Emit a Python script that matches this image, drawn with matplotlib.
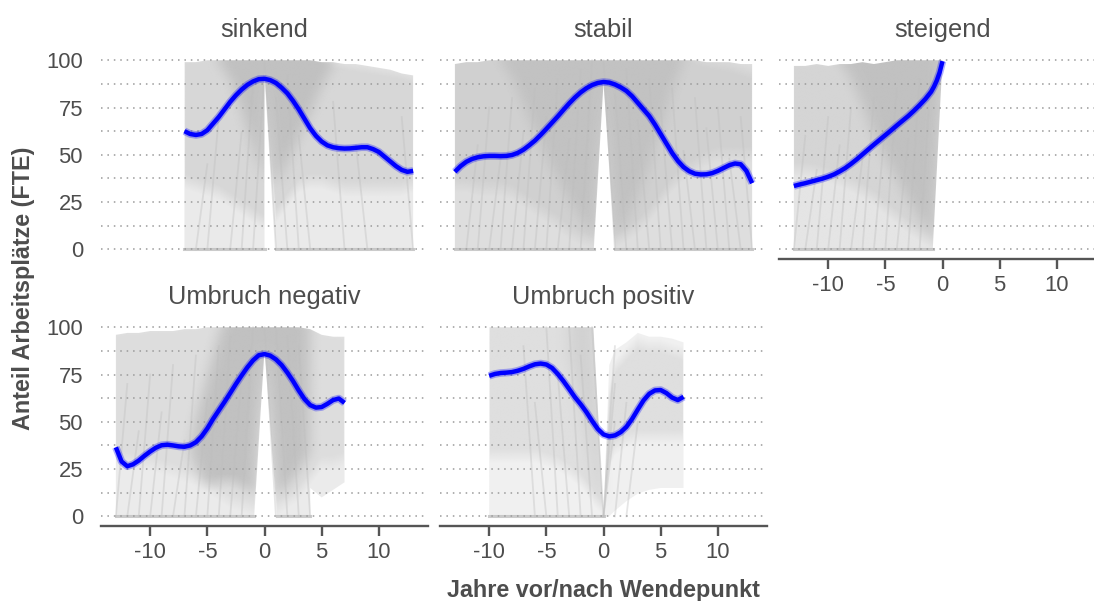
import matplotlib
matplotlib.use("Agg")
import matplotlib.pyplot as plt
import numpy as np
from matplotlib.path import Path
from matplotlib.patches import PathPatch

# colours
GRAY = "#BEBEBE"
BLUE = "#0000FF"
TEXT = "#4D4D4D"
AXIS = "#555555"
GRID = "#9A9A9A"

plt.rcParams["font.family"] = ["Liberation Sans", "DejaVu Sans"]
plt.rcParams["axes.unicode_minus"] = False

# ---------------------------------------------------------------- sinkend
SINK_YEARS = [-7, -6.5, -6, -5.5, -5, -4.5, -4, -3.5, -3, -2.5, -2, -1.5, -1, -0.5, 0,
              0.5, 1, 1.5, 2, 2.5, 3, 3.5, 4, 4.5, 5, 5.5, 6, 6.5, 7, 7.5, 8, 8.5, 9,
              9.5, 10, 10.5, 11, 11.5, 12, 12.5, 13]
SINK_TREND = [62.5, 61, 60.5, 61, 63, 66.5, 70, 74, 78, 81.5, 84.5, 87, 88.8, 90, 90.2,
              89.5, 88, 85.5, 82.5, 78.5, 74, 69, 64, 60, 57, 55, 54, 53.5, 53.3, 53.4, 53.7, 54, 54,
              53, 51.5, 49, 46.5, 44, 42, 41, 41.5]
SINK_LIGHT = ([-7, -6, -5, -4, -3, -2, -1, 0, 0, 1, 2, 3, 4, 5, 6, 7, 8, 9, 10, 11, 12, 13],
              [0, 0, 0, 0, 0, 0, 0, 0, 94, 0, 0, 0, 0, 0, 0, 0, 0, 0, 0, 0, 0, 0],
              [99, 99, 100, 100, 100, 100, 100, 100, 100, 100, 100, 100, 100, 99, 99, 98, 98, 97, 96, 95, 93, 92])
SINK_MID = ([-7, -6, -5, -4, -3, -2, -1, 0, 0, 1, 2, 3, 4, 5, 6, 7, 8, 9, 10, 11, 12, 13],
            [32, 30, 28, 26, 22, 18, 14, 10, 94, 14, 22, 30, 32, 32, 30, 28, 28, 28, 28, 28, 28, 30],
            [98, 98, 99, 100, 100, 100, 100, 100, 100, 100, 100, 100, 99, 97, 95, 95, 94, 93, 92, 91, 90, 88])
SINK_CORE = ([-4, -3, -2, -1, 0, 0, 1, 2, 3, 4, 5, 6],
             [95, 86, 70, 50, 32, 94, 28, 42, 55, 68, 82, 93],
             [100, 100, 100, 100, 100, 100, 100, 100, 100, 99, 98, 97])
SINK_ZERO = [(-7, 0), (1, 13)]
SINK_RISE_AT = [-6, -5, -3, -2, -1]
SINK_RISE_TO = [45, 70, 62, 90, 95]
SINK_DROP_AT = [0, 1, 2, 3, 6, 8, 12]
SINK_DROP_FROM = [100, 80, 92, 60, 78, 55, 70]

# ---------------------------------------------------------------- stabil
STAB_YEARS = [-13, -12.5, -12, -11.5, -11, -10.5, -10, -9.5, -9, -8.5, -8, -7.5, -7, -6.5,
              -6, -5.5, -5, -4.5, -4, -3.5, -3, -2.5, -2, -1.5, -1, -0.5, 0, 0.5, 1, 1.5,
              2, 2.5, 3, 3.5, 4, 4.5, 5, 5.5, 6, 6.5, 7, 7.5, 8, 8.5, 9, 9.5, 10, 10.5,
              11, 11.5, 12, 12.5, 13]
STAB_TREND = [41, 44, 46.3, 47.8, 48.7, 49.2, 49.4, 49.4, 49.3, 49.4, 49.9, 51, 52.7, 55,
              57.5, 60.5, 63.7, 67, 70.3, 73.8, 77.2, 80.3, 83, 85.2, 86.9, 88, 88.5, 88.2, 87.2, 85.7,
              83.8, 81, 77.5, 74, 70.5, 66, 61, 56, 51, 46.8, 43.5, 41.3, 40, 39.6, 39.7, 40.3, 41.5, 43,
              44.5, 45.4, 45, 41.5, 35]
STAB_LIGHT = ([-13, -12, -11, -10, -9, -8, -7, -6, -5, -4, -3, -2, -1, -0.85, 0, 1,
               2, 3, 4, 5, 6, 7, 8, 9, 10, 11, 12, 13],
              [0, 0, 0, 0, 0, 0, 0, 0, 0, 0, 0, 0, 0, 0, 88, 0,
               0, 0, 0, 0, 0, 0, 0, 0, 0, 0, 0, 0],
              [98, 99, 99, 100, 100, 100, 100, 100, 100, 100, 100, 100, 100, 100, 100, 100,
               100, 100, 100, 100, 100, 100, 100, 99, 99, 99, 98, 98])
STAB_MID = ([-13, -12, -11, -10, -9, -8, -7, -6, -5, -4, -3, -2, -1, -0.85, 0, 1,
             2, 3, 4, 5, 6, 7, 8, 9, 10, 11, 12, 13],
            [30, 30, 28, 28, 28, 26, 22, 18, 14, 10, 5, 2, 0, 0, 88, 0,
             4, 8, 14, 22, 30, 36, 40, 44, 46, 46, 46, 46],
            [98, 99, 99, 100, 100, 100, 100, 100, 100, 100, 100, 100, 100, 100, 100, 100,
             100, 100, 100, 100, 100, 100, 98, 96, 95, 94, 92, 90])
STAB_CORE = ([-9, -8, -7, -6, -5, -4, -3, -2, -1, -0.85, 0, 1, 2, 3, 4, 5, 6, 7],
             [96, 86, 72, 58, 45, 33, 22, 12, 4, 2, 88, 3, 10, 24, 40, 58, 80, 95],
             [99, 99, 100, 100, 100, 100, 100, 100, 100, 100, 100, 100, 100, 100, 100, 100, 100, 99])
STAB_ZERO = [(-13, -0.85), (1, 13)]
STAB_RISE_AT = [-12, -11, -10, -9, -8, -7, -6, -5, -4, -3, -2]
STAB_RISE_TO = [55, 75, 48, 80, 62, 85, 70, 90, 58, 95, 100]
STAB_DROP_AT = [0, 1, 2, 3, 4, 5, 6, 7, 8, 9, 10, 11, 12]
STAB_DROP_FROM = [100, 82, 95, 68, 90, 75, 85, 52, 80, 64, 75, 48, 70]

# ---------------------------------------------------------------- steigend
STEIG_YEARS = [-13, -12.5, -12, -11.5, -11, -10.5, -10, -9.5, -9, -8.5, -8, -7.5, -7, -6.5,
               -6, -5.5, -5, -4.5, -4, -3.5, -3, -2.5, -2, -1.5, -1, -0.75, -0.5, -0.25, 0]
STEIG_TREND = [33.5, 34.3, 35, 35.8, 36.6, 37.4, 38.4, 39.6, 41.2, 43, 45.2, 47.6, 50.2, 52.8,
               55.4, 57.9, 60.4, 62.9, 65.5, 68, 70.5, 73.3, 76.3, 79.5, 83.3, 86, 89.3, 93.6, 99.5]
STEIG_LIGHT = ([-13, -12, -11, -10, -9, -8, -7, -6, -5, -4, -3, -2, -1, -0.85, 0],
               [0, 0, 0, 0, 0, 0, 0, 0, 0, 0, 0, 0, 0, 0, 100],
               [97, 97, 98, 97, 98, 98, 99, 98, 99, 100, 100, 100, 100, 100, 100])
STEIG_MID = ([-13, -12, -11, -10, -9, -8, -7, -6, -5, -4, -3, -2, -1, -0.85, 0],
             [38, 38, 37, 35, 33, 30, 27, 23, 18, 13, 8, 4, 0, 0, 100],
             [96, 96, 97, 96, 97, 97, 98, 98, 99, 100, 100, 100, 100, 100, 100])
STEIG_CORE = ([-9, -8, -7, -6, -5, -4, -3, -2, -1, -0.85, 0],
              [96, 86, 72, 56, 44, 33, 22, 12, 4, 2, 100],
              [99, 99, 99, 100, 100, 100, 100, 100, 100, 100, 100])
STEIG_ZERO = [(-13, -0.85)]
STEIG_RISE_AT = [-13, -12, -11, -10, -9, -8, -7, -6, -5, -4, -3, -2]
STEIG_RISE_TO = [60, 42, 70, 55, 75, 48, 80, 66, 85, 58, 90, 95]
STEIG_DROP_AT = []
STEIG_DROP_FROM = []

# ---------------------------------------------------------------- Umbruch negativ
UNEG_YEARS = [-13, -12.5, -12, -11.5, -11, -10.5, -10, -9.5, -9, -8.5, -8, -7.5, -7, -6.5,
              -6, -5.5, -5, -4.5, -4, -3.5, -3, -2.5, -2, -1.5, -1, -0.5, 0, 0.5, 1, 1.5,
              2, 2.5, 3, 3.5, 4, 4.5, 5, 5.5, 6, 6.5, 7]
UNEG_TREND = [36.5, 29, 26.5, 27.5, 29.5, 32, 34.3, 36.3, 37.6, 37.9, 37.5, 37, 36.8, 37.5,
              39.2, 42.3, 46.5, 51.5, 56, 60.5, 65.2, 70, 74.5, 78.8, 82.5, 85.2, 85.8, 85, 83, 80,
              76, 71.5, 66.5, 62, 58.8, 57.5, 57.8, 59.5, 61.5, 62.3, 60]
UNEG_LIGHT = ([-13, -12, -11, -10, -9, -8, -7, -6, -5, -4, -3, -2, -1, -0.9, 0, 1.1,
               2, 3, 4, 4, 5, 6, 7],
              [0, 0, 0, 0, 0, 0, 0, 0, 0, 0, 0, 0, 0, 0, 88, 0,
               0, 0, 0, 15, 10, 14, 18],
              [96, 97, 97, 98, 98, 98, 99, 99, 100, 100, 100, 100, 100, 100, 100, 100,
               100, 100, 99, 99, 96, 95, 95])
UNEG_MID = ([-13, -12, -11, -10, -9, -8, -7, -6, -5, -4, -3, -2, -1, -0.9, 0, 1.1,
             2, 3, 4, 5, 6, 7],
            [26, 26, 24, 24, 22, 20, 18, 16, 12, 8, 4, 2, 0, 0, 88, 0,
             4, 8, 16, 24, 24, 26],
            [95, 96, 96, 97, 97, 97, 98, 98, 99, 100, 100, 100, 100, 100, 100, 100,
             100, 100, 98, 95, 94, 93])
UNEG_CORE = ([-6.5, -6, -5, -4, -3.5, -3, -2, -1, -0.9, 0, 1.1, 2, 3, 4],
             [30, 22, 12, 14, 15, 15, 12, 8, 6, 88, 6, 12, 20, 30],
             [32, 48, 70, 92, 100, 100, 100, 100, 100, 100, 100, 100, 99, 97])
UNEG_ZERO = [(-13, -0.9), (1.1, 4)]
UNEG_RISE_AT = [-13, -12, -11, -10, -9, -8, -7, -6, -5, -4, -3, -2]
UNEG_RISE_TO = [70, 45, 75, 55, 80, 40, 85, 62, 90, 95, 75, 100]
UNEG_DROP_AT = [0, 1, 2, 3]
UNEG_DROP_FROM = [100, 100, 95, 90]

# ---------------------------------------------------------------- Umbruch positiv
UPOS_YEARS = [-10, -9.5, -9, -8.5, -8, -7.5, -7, -6.5, -6, -5.5, -5, -4.5, -4, -3.5, -3,
              -2.5, -2, -1.5, -1, -0.5, 0, 0.5, 1, 1.5, 2, 2.5, 3, 3.5, 4, 4.5, 5, 5.5,
              6, 6.5, 7]
UPOS_TREND = [74.3, 75.3, 75.8, 76, 76.3, 77, 78, 79.3, 80.4, 80.8, 80.3, 78.5, 75.3, 71.5, 67.3,
              63, 59.3, 55.2, 50.5, 46.2, 43.3, 42.3, 42.8, 44.5, 47.3, 51.5, 56.5, 61.3, 64.8, 66.6, 66.8, 65.2,
              62.8, 61.5, 63.2]
UPOS_LIGHT = ([-10, -9, -8, -7, -6, -5, -4, -3, -2, -1, -0.88, 0, 0.5, 1, 2, 3, 4, 5, 6, 7],
              [0, 0, 0, 0, 0, 0, 0, 0, 0, 0, 0, 0, 0, 3, 8, 12, 14, 15, 15, 15],
              [100, 100, 100, 100, 100, 100, 100, 100, 100, 100, 100, 0, 80, 88, 92, 97, 95, 95, 94, 92])
UPOS_MID = ([-10, -9, -8, -7, -6, -5, -4, -3, -2, -1, -0.88, 0, 0.5, 1, 2, 3, 4, 5, 6, 7],
            [28, 28, 28, 28, 28, 26, 24, 20, 15, 8, 6, 0, 25, 32, 36, 38, 38, 38, 38, 38],
            [100, 100, 100, 100, 100, 100, 100, 100, 100, 100, 100, 0, 60, 75, 82, 88, 86, 86, 84, 82])
UPOS_CORE = ([-3, -2, -1, -0.88, 0],
             [80, 55, 25, 18, 0],
             [100, 100, 100, 100, 0])
UPOS_ZERO = [(-10, 0)]
UPOS_RISE_AT = [0, 0, 0, 1, 2]
UPOS_RISE_TO = [50, 70, 90, 60, 50]
UPOS_DROP_AT = [-7, -6, -5, -4, -3, -2, -1]
UPOS_DROP_FROM = [90, 60, 100, 75, 100, 85, 100]

PANELS = [
    ("sinkend", SINK_YEARS, SINK_TREND, SINK_LIGHT, SINK_MID, SINK_CORE, SINK_ZERO,
     SINK_RISE_AT, SINK_RISE_TO, SINK_DROP_AT, SINK_DROP_FROM, (0.32, 0.42, 0.90)),
    ("stabil", STAB_YEARS, STAB_TREND, STAB_LIGHT, STAB_MID, STAB_CORE, STAB_ZERO,
     STAB_RISE_AT, STAB_RISE_TO, STAB_DROP_AT, STAB_DROP_FROM, (0.50, 0.42, 0.80)),
    ("steigend", STEIG_YEARS, STEIG_TREND, STEIG_LIGHT, STEIG_MID, STEIG_CORE, STEIG_ZERO,
     STEIG_RISE_AT, STEIG_RISE_TO, STEIG_DROP_AT, STEIG_DROP_FROM, (0.40, 0.40, 0.85)),
    ("Umbruch negativ", UNEG_YEARS, UNEG_TREND, UNEG_LIGHT, UNEG_MID, UNEG_CORE, UNEG_ZERO,
     UNEG_RISE_AT, UNEG_RISE_TO, UNEG_DROP_AT, UNEG_DROP_FROM, (0.30, 0.30, 0.90)),
    ("Umbruch positiv", UPOS_YEARS, UPOS_TREND, UPOS_LIGHT, UPOS_MID, UPOS_CORE, UPOS_ZERO,
     UPOS_RISE_AT, UPOS_RISE_TO, UPOS_DROP_AT, UPOS_DROP_FROM, (0.22, 0.35, 0.40)),
]

X_TICKS = [-10, -5, 0, 5, 10]
Y_TICKS = [0, 25, 50, 75, 100]
Y_MINOR = [12.5, 37.5, 62.5, 87.5]
XLIM = (-14.3, 14.3)
YLIM = (-5, 105)

W, H = 1094, 601
fig = plt.figure(figsize=(W / 100, H / 100), dpi=100)

# facet grid in pixels: column lefts, row tops, panel size
COL_LEFT = [101, 440, 779]
ROW_TOP = [50.8, 317.8]
PW, PH = 327, 208

# sampling grid for the shaded line density
NX, NY = 460, 330
gx = np.linspace(*XLIM, NX)
gy = np.linspace(*YLIM, NY)
GX, GY = np.meshgrid(gx, gy)
POINTS = np.column_stack([GX.ravel(), GY.ravel()])
FADE = 24     # rows over which density builds up above a band's lower edge
SPREAD = 10   # columns of sideways softening for the dense core


def band_path(band):
    bx, lo, hi = band
    verts = list(zip(bx, hi)) + list(zip(bx[::-1], lo[::-1]))
    return Path(verts + [verts[0]], closed=True)


def band_density(band, spread=0):
    mask = band_path(band).contains_points(POINTS).reshape(NY, NX).astype(float)
    # one-sided running mean along y: soft lower edge, crisp upper edge
    cs = np.vstack([np.zeros((1, NX)), np.cumsum(mask, axis=0)])
    idx = np.arange(NY)
    start = np.clip(idx - FADE + 1, 0, None)
    dens = (cs[idx + 1] - cs[start]) / FADE
    if spread:
        k = np.ones(2 * spread + 1) / (2 * spread + 1)
        for _ in range(2):
            padded = np.pad(dens, ((0, 0), (spread, spread)), mode="edge")
            dens = np.array([np.convolve(row, k, mode="valid") for row in padded])
    return dens


def panel_axes(row, col):
    left = COL_LEFT[col]
    top = ROW_TOP[row]
    return fig.add_axes([left / W, 1 - (top + PH) / H, PW / W, PH / H])


def draw_panel(ax, spec, show_y, show_x):
    (name, years, trend, light, mid, core, zero_spans, rise_at, rise_to,
     drop_at, drop_from, alphas) = spec
    a_light, a_mid, a_core = alphas

    # overlapping trajectories rendered as a gray density field
    opacity = 1 - ((1 - a_light) * (1 - a_mid * band_density(mid))
                   * (1 - a_core * band_density(core, SPREAD)))
    rgba = np.zeros((NY, NX, 4))
    rgba[..., :3] = np.array(matplotlib.colors.to_rgb(GRAY))
    rgba[..., 3] = np.clip(opacity, 0, 1)
    im = ax.imshow(rgba, extent=(*XLIM, *YLIM), origin="lower", aspect="auto",
                   interpolation="bilinear", zorder=1)
    clip = PathPatch(band_path(light), transform=ax.transData, facecolor="none", edgecolor="none")
    im.set_clip_path(clip)

    for x0, x1 in zero_spans:
        ax.plot([x0, x1], [0, 0], color=GRAY, lw=2.2, alpha=0.8, zorder=1.5)
    for k, y in zip(rise_at, rise_to):
        ax.plot([k, k + 1], [0, y], color=GRAY, alpha=0.38, lw=1.3, zorder=1.5)
    for k, y in zip(drop_at, drop_from):
        ax.plot([k, k + 1], [y, 0], color=GRAY, alpha=0.38, lw=1.3, zorder=1.5)

    # smoothed trend with its confidence band
    ax.plot(years, trend, color=BLUE, lw=5.5, alpha=0.3, solid_capstyle="butt", zorder=3)
    ax.plot(years, trend, color=BLUE, lw=3.2, solid_capstyle="butt",
            solid_joinstyle="round", zorder=3.1)

    ax.set_xlim(*XLIM)
    ax.set_ylim(*YLIM)
    ax.set_facecolor("none")
    ax.set_axisbelow(False)
    ax.set_yticks(Y_TICKS)
    ax.set_yticks(Y_MINOR, minor=True)
    ax.grid(which="both", axis="y", color=GRID, linestyle=(0, (1.0, 3.2)), lw=1.1)
    ax.grid(False, axis="x")
    for side in ("top", "right", "left"):
        ax.spines[side].set_visible(False)
    ax.tick_params(axis="y", which="both", length=0, pad=13,
                   labelsize=15.8, labelcolor=TEXT, labelleft=show_y)
    if show_x:
        ax.spines["bottom"].set_color(AXIS)
        ax.spines["bottom"].set_linewidth(1.7)
        ax.set_xticks(X_TICKS)
        ax.tick_params(axis="x", length=7, width=1.7, color=AXIS, pad=5,
                       labelsize=15.8, labelcolor=TEXT)
    else:
        ax.spines["bottom"].set_visible(False)
        ax.set_xticks([])

    pos = ax.get_position()
    fig.text((pos.x0 + pos.x1) / 2, pos.y1 + 14 / H, name, ha="center", va="baseline",
             fontsize=18.3, color=TEXT)


layout = [(0, 0, True, False), (0, 1, False, False), (0, 2, False, True),
          (1, 0, True, True), (1, 1, False, True)]
for spec, (r, c, sy, sx) in zip(PANELS, layout):
    draw_panel(panel_axes(r, c), spec, sy, sx)

fig.text(603.5 / W, 1 - 596.7 / H, "Jahre vor/nach Wendepunkt", ha="center", va="baseline",
         fontsize=16.8, fontweight="bold", color=TEXT)
fig.text(24 / W, 1 - 288.4 / H, "Anteil Arbeitsplätze (FTE)", ha="center", va="center",
         rotation=90, fontsize=16.8, fontweight="bold", color=TEXT)

fig.savefig("out.png", dpi=100, facecolor="white")
